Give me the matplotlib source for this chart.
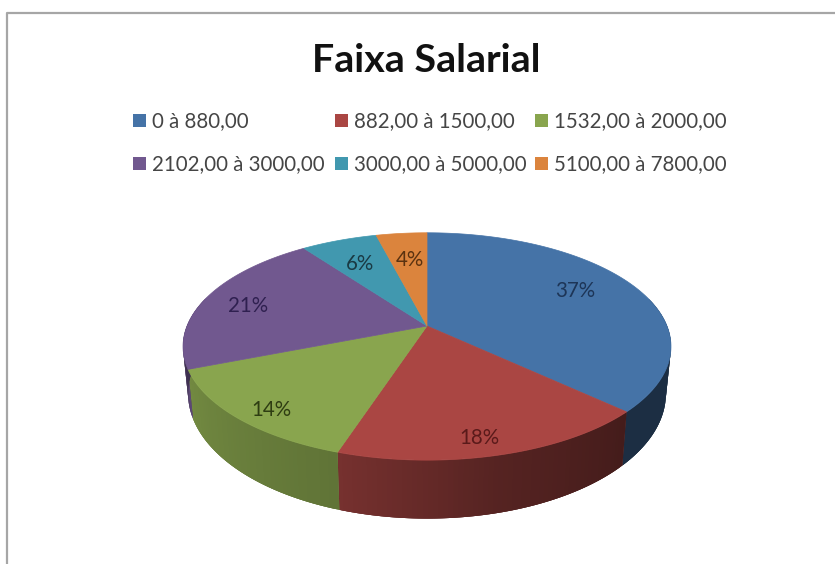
import numpy as np
import matplotlib
matplotlib.use("Agg")
import matplotlib.pyplot as plt
from matplotlib.patches import Polygon, Rectangle

plt.rcParams['font.family'] = ['Lato', 'DejaVu Sans']

# data
faixas = ["0 à 880,00", "882,00 à 1500,00", "1532,00 à 2000,00",
          "2102,00 à 3000,00", "3000,00 à 5000,00", "5100,00 à 7800,00"]
valores = [37, 18, 14, 21, 6, 4]

cores = ["#4573A7", "#AA4643", "#89A54E", "#71588F", "#4198AF", "#DB843D"]
cores_texto = ["#1D3557", "#5A1A1A", "#2E3D12", "#2F2050", "#1A3A44", "#5A3210"]
label_r = [0.62, 0.85, 0.87, 0.81, 0.75, 0.70]
label_dx = [17, -7, 6, 0, 1, 2]
label_dy = [-9, 6, 5, 4, 5, 2]

# perspective of the pie, in pixels
cx, cy = 427, 326
k = 0.18
R_top, S_top = 240, 110
R_bot, S_bot, depth = 235, 121, 45


def top_rim(theta, r=1.0):
    u, v = r*np.sin(theta), -r*np.cos(theta)
    d = 1 - k*v
    return cx + R_top*u/d, cy + S_top*v/d


def bottom_rim(theta):
    u, v = np.sin(theta), -np.cos(theta)
    d = 1 - k*v
    return cx + R_bot*u/d, cy + depth + S_bot*v/d


def shade(graus):
    return np.interp(graus, [90, 133, 165, 198, 250, 262, 290],
                     [0.40, 0.40, 0.50, 0.70, 0.84, 0.55, 0.55])


fig = plt.figure(figsize=(8.35, 5.64), dpi=100)
ax = fig.add_axes([0, 0, 1, 1])
ax.set_xlim(0, 835)
ax.set_ylim(564, 0)
ax.axis("off")

# frame
ax.plot([6.5, 6.5, 835], [564, 13, 13], color="#A6A6A6", lw=1.6)

ax.text(426, 60, "Faixa Salarial", fontsize=28.4, fontweight="bold",
        color="#111111", ha="center", va="center")

# legend
col_x = [133, 335, 535]
lin_y = [120, 163]
for i, nome in enumerate(faixas):
    x = col_x[i % 3]
    y = lin_y[i // 3]
    ax.add_patch(Rectangle((x, y-6.5), 13, 13, color=cores[i], lw=0))
    ax.text(x+19, y+1.5, nome, fontsize=14.8, color="#454545", ha="left", va="center")

limites = np.cumsum([0] + valores) / 100 * 2*np.pi

# side wall
for i in range(len(valores)):
    a0, a1 = limites[i], limites[i+1]
    n = max(int(np.degrees(a1-a0)), 2)
    t = np.linspace(a0, a1, n+1)
    visiveis = [j for j in range(n) if -np.cos((t[j]+t[j+1])/2) >= -0.25]
    if not visiveis:
        continue
    # solid piece under the strips, stops the seams showing
    faixa_t = t[visiveis[0]:visiveis[-1]+2]
    xa, ya = top_rim(faixa_t)
    xb, yb = bottom_rim(faixa_t)
    pts = np.column_stack([np.r_[xa, xb[::-1]], np.r_[ya, yb[::-1]]])
    base = np.array(matplotlib.colors.to_rgb(cores[i]))
    rgb = base * shade(np.degrees(faixa_t.mean()))
    ax.add_patch(Polygon(pts, closed=True, facecolor=rgb, edgecolor="none"))
    for j in visiveis:
        fim = min(j+2, n)
        xa, ya = top_rim(t[j:fim+1])
        xb, yb = bottom_rim(t[j:fim+1])
        pts = np.column_stack([np.r_[xa, xb[::-1]], np.r_[ya, yb[::-1]]])
        rgb = base * shade(np.degrees(t[j:j+2].mean()))
        ax.add_patch(Polygon(pts, closed=True, facecolor=rgb, edgecolor="none"))

# top faces
for i in range(len(valores)):
    t = np.linspace(limites[i], limites[i+1], 120)
    xa, ya = top_rim(t)
    pts = np.column_stack([np.r_[cx, xa], np.r_[cy, ya]])
    ax.add_patch(Polygon(pts, closed=True, facecolor=cores[i], edgecolor=cores[i], lw=0.5))

# percent labels
for i, v in enumerate(valores):
    meio = (limites[i]+limites[i+1])/2
    x, y = top_rim(meio, label_r[i])
    ax.text(x+label_dx[i], y+label_dy[i], "%d%%" % v, fontsize=14.8,
            color=cores_texto[i], ha="center", va="center")

fig.savefig("out.png", dpi=100)
